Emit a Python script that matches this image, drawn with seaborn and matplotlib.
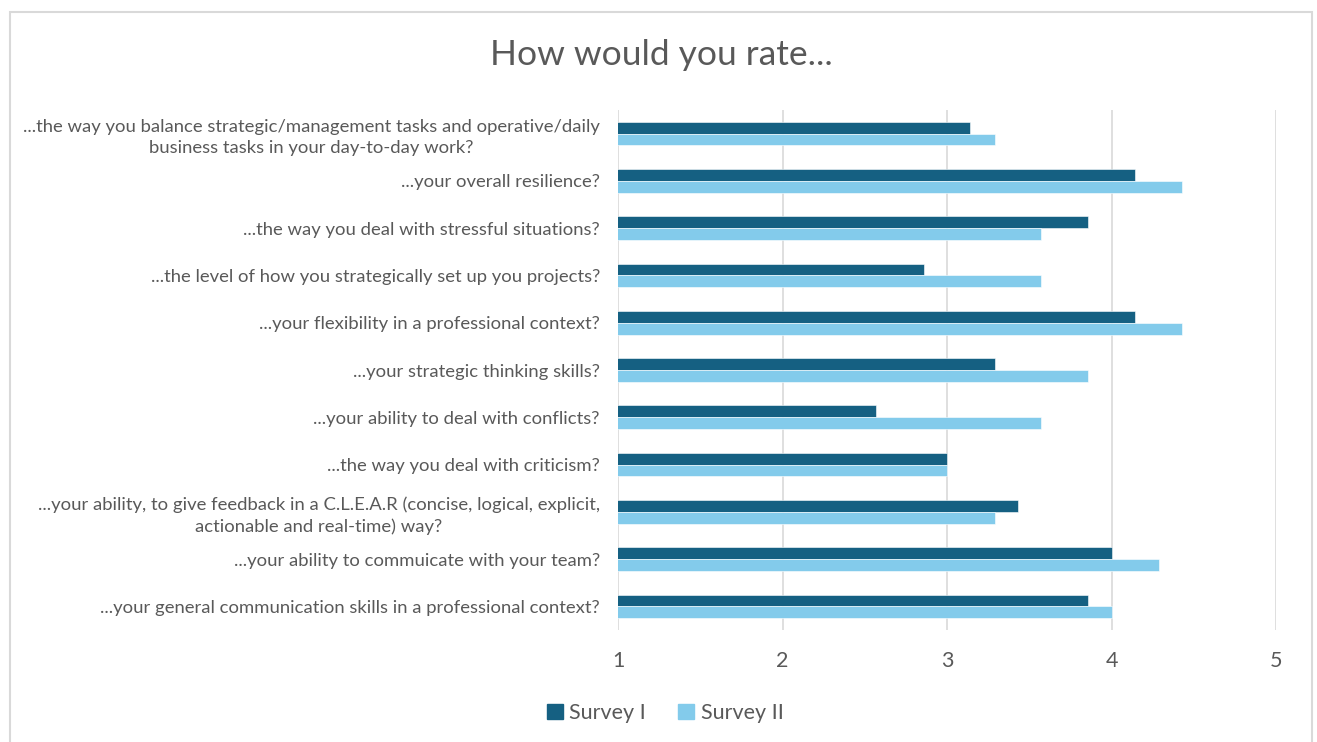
import matplotlib.pyplot as plt
import matplotlib.patches as mpatches
import pandas as pd
import seaborn as sns

questions = [
    "...the way you balance strategic/management tasks and operative/daily\nbusiness tasks in your day-to-day work?",
    "...your overall resilience?",
    "...the way you deal with stressful situations?",
    "...the level of how you strategically set up you projects?",
    "...your flexibility in a professional context?",
    "...your strategic thinking skills?",
    "...your ability to deal with conflicts?",
    "...the way you deal with criticism?",
    "...your ability, to give feedback in a C.L.E.A.R (concise, logical, explicit,\nactionable and real-time) way?",
    "...your ability to commuicate with your team?",
    "...your general communication skills in a professional context?",
]
survey_1 = [3.14, 4.14, 3.86, 2.86, 4.14, 3.29, 2.57, 3.00, 3.43, 4.00, 3.86]
survey_2 = [3.29, 4.43, 3.57, 3.57, 4.43, 3.86, 3.57, 3.00, 3.29, 4.29, 4.00]
series = ["Survey I", "Survey II"]
colors = ["#156082", "#83CBEB"]

df = pd.DataFrame({
    "question": questions * 2,
    "rating": survey_1 + survey_2,
    "survey": [series[0]] * len(questions) + [series[1]] * len(questions),
})

sns.set_theme(style="white")
plt.rcParams["font.family"] = ["Lato", "DejaVu Sans"]
text_color = "#595959"

fig = plt.figure(figsize=(13.17, 7.42), dpi=100)
ax = fig.add_axes([618 / 1317, 1 - 630 / 742, (1276 - 618) / 1317, 520 / 742])

sns.barplot(data=df, y="question", x="rating", hue="survey", orient="h",
            palette=colors, saturation=1, width=0.5, ax=ax,
            edgecolor="white", linewidth=0.4)

ax.set_xlim(1, 5)
ax.set_xticks([1, 2, 3, 4, 5])
ax.grid(axis="x", color="#d9d9d9", linewidth=1.2)
ax.set_axisbelow(True)
for s in ax.spines.values():
    s.set_visible(False)
ax.set_xlabel("")
ax.set_ylabel("")
ax.tick_params(axis="x", labelsize=15.5, colors=text_color, pad=15, length=0)
ax.tick_params(axis="y", labelsize=13.3, colors=text_color, pad=13, length=0)
for lbl in ax.get_yticklabels():
    lbl.set_horizontalalignment("right")
    lbl.set_multialignment("center")
    lbl.set_linespacing(1.35)

ax.legend_.remove()
handles = [mpatches.Patch(color=c, label=s) for c, s in zip(colors, series)]
fig.legend(handles=handles, loc="center", bbox_to_anchor=(0.505, 1 - 713 / 742),
           ncol=2, frameon=False, fontsize=15.5, labelcolor=text_color,
           handlelength=0.75, handleheight=0.75, handletextpad=0.3, columnspacing=1.5)

fig.text(0.502, 1 - 55 / 742, "How would you rate...", ha="center", va="center",
         fontsize=25.5, color=text_color)

fig.patches.append(mpatches.Rectangle((10 / 1317, -0.01), 1302 / 1317, 1 - 12 / 742 + 0.01,
                                      transform=fig.transFigure, fill=False,
                                      edgecolor="#d9d9d9", linewidth=1.5))

fig.savefig("out.png", dpi=100, facecolor="white")
